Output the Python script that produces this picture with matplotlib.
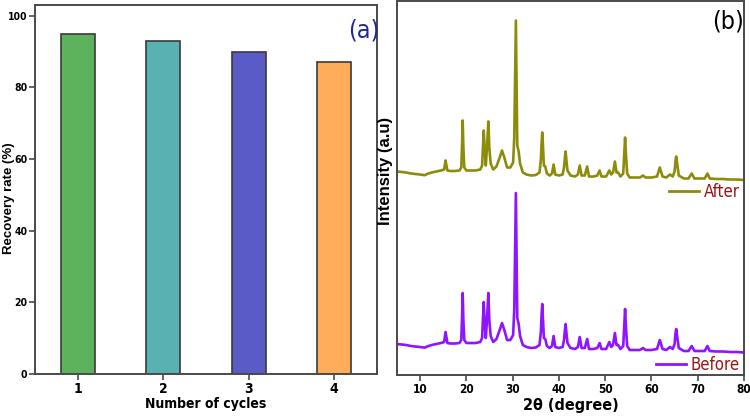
import matplotlib
matplotlib.use("Agg")
import matplotlib.pyplot as plt
from matplotlib.lines import Line2D

# ================ DATA ================
cycles = [1, 2, 3, 4]
recovery = [95, 93, 90, 87]
bar_colors = ["#5cb35c", "#5ab1b1", "#5b5bc8", "#ffad5b"]

# XRD patterns (2theta, intensity a.u.)
two_theta = [5.0, 6.0, 7.0, 8.0, 9.0, 10.0, 11.0, 11.5, 12.5, 13.5, 14.5, 15.2, 15.4, 15.5, 15.65, 15.9,
             16.5, 17.5, 18.5, 18.9, 19.05, 19.2, 19.35, 19.55, 20.0, 21.0, 22.0, 23.0,
             23.4, 23.6, 23.75, 23.95, 24.2, 24.45, 24.75, 24.95, 25.25, 25.8, 26.5, 27.2, 27.7, 28.2, 28.8, 29.5,
             30.1, 30.35, 30.55, 30.7, 30.85, 31.0, 31.3, 31.6, 32.2, 33.0, 34.0, 35.0,
             35.8, 36.1, 36.25, 36.4, 36.55, 36.75, 37.05, 37.4, 38.0, 38.5, 38.85, 39.2, 40.0, 40.8,
             41.1, 41.3, 41.45, 41.6, 41.85, 42.5, 43.5, 44.1, 44.5, 44.9, 45.6, 46.1, 46.5, 47.5,
             48.3, 48.8, 49.2, 50.2, 50.9, 51.3, 51.7, 52.1, 52.45, 52.8, 53.3,
             53.9, 54.1, 54.3, 54.5, 54.75, 55.3, 56.5, 57.5, 58.2, 58.7, 60.0, 61.2, 61.8, 62.4, 63.2,
             64.0, 64.6, 65.0, 65.2, 65.35, 65.55, 65.9, 67.0, 68.0, 68.7, 69.3, 70.5, 71.5, 72.1, 72.6,
             74.0, 75.5, 77.0, 78.5, 80.0]

before_int = [16, 15.5, 15, 14, 13.5, 13, 12.3, 13.5, 15, 16, 17, 18, 25, 28, 24, 17,
              16.5, 16.5, 17, 20, 40, 67, 40, 20, 17, 17, 17, 18,
              22, 42, 58, 38, 22, 40, 67, 40, 24, 18, 21, 30, 37, 30, 20, 20,
              25, 50, 120, 167, 100, 42, 36, 24, 15, 13, 12, 12.5,
              15, 28, 45, 56, 42, 22, 21, 14, 12, 14, 24, 13, 12, 13,
              20, 30, 36, 28, 17, 12, 11, 13, 23, 12, 12, 21, 11, 11,
              12, 17, 11, 11, 18, 13, 15, 27, 15, 15, 11,
              14, 32, 51, 32, 14, 10, 10, 10, 12, 10, 10, 11, 20, 11, 10,
              13, 11, 16, 27, 31, 24, 12, 9, 9, 14, 9, 9, 9, 14, 9,
              8.5, 8.5, 8, 8, 7.5]

after_int = [16, 15.5, 15, 14, 13.5, 13, 12.3, 13.5, 15, 16, 17, 18, 24, 27, 23, 17,
             16.5, 16.5, 17, 20, 40, 67, 40, 20, 17, 17, 17, 18,
             22, 42, 57, 38, 22, 40, 66, 40, 24, 18, 21, 30, 37, 30, 20, 20,
             25, 50, 120, 167, 100, 42, 36, 24, 15, 13, 12, 12.5,
             15, 28, 44, 55, 42, 22, 21, 14, 12, 14, 23, 13, 12, 13,
             20, 30, 36, 28, 17, 12, 11, 13, 22, 12, 12, 21, 11, 11,
             12, 17, 11, 11, 17, 13, 15, 26, 15, 15, 11,
             14, 32, 50, 32, 14, 10, 10, 10, 12, 10, 10, 11, 20, 11, 10,
             13, 11, 16, 27, 31, 24, 12, 9, 9, 14, 9, 9, 9, 14, 9,
             8.5, 8.5, 8, 8, 7.5]

xrd_ticks = [10, 20, 30, 40, 50, 60, 70, 80]

# ================ STYLE ================
narrow = dict(family="DejaVu Sans", stretch="condensed")
wide = ["Liberation Sans", "DejaVu Sans"]
frame_col = "#4a4a4a"
stack_offset = 172.5

fig = plt.figure(figsize=(7.5, 4.17), dpi=100)

# ================ (a) recovery bars ================
ax1 = fig.add_axes([0.0467, 0.1031, 0.456, 0.8849])
ax1.bar(cycles, recovery, width=0.4, color=bar_colors, edgecolor="#3a3a3a", linewidth=1.2)
ax1.set_xlim(0.5, 4.5)
ax1.set_ylim(0, 103)
ax1.set_xticks(cycles)
ax1.set_yticks([0, 20, 40, 60, 80, 100])
ax1.tick_params(direction="out", length=4, width=1.2, color=frame_col, pad=1.5)
for lab in ax1.get_xticklabels():
    lab.set(fontweight="bold", fontsize=10, **narrow)
for lab in ax1.get_yticklabels():
    lab.set(fontweight="bold", fontsize=7.5, **narrow)
ax1.set_xlabel("Number of cycles", fontweight="bold", fontsize=10, labelpad=1, **narrow)
ax1.set_ylabel("Recovery rate (%)", family=wide, fontweight="bold", fontsize=9.5)
ax1.yaxis.set_label_coords(-0.06, 0.476)
ax1.text(0.96, 0.93, "(a)", transform=ax1.transAxes, ha="center", va="center",
         fontsize=18, color="#1f2a8f", **narrow)
for s in ax1.spines.values():
    s.set_color(frame_col)
    s.set_linewidth(1.4)

# ================ (b) XRD ================
ax2 = fig.add_axes([0.5293, 0.1007, 0.4627, 0.8969])
after_col = "#8c8c0a"
before_col = "#8f14ff"
ax2.plot(two_theta, [v + stack_offset for v in after_int], color=after_col, lw=1.9)
ax2.plot(two_theta, before_int, color=before_col, lw=1.9)
ax2.set_xlim(5, 80)
ax2.set_ylim(-15, 359)
ax2.set_xticks(xrd_ticks)
ax2.set_yticks([])
ax2.tick_params(direction="out", length=4, width=1.2, color=frame_col, pad=2)
for lab in ax2.get_xticklabels():
    lab.set(fontweight="bold", fontsize=8.5, **narrow)
ax2.set_xlabel("2\u03b8 (degree)", fontweight="bold", fontsize=11.5, labelpad=1, **narrow)
ax2.set_ylabel("Intensity (a.u)", family=wide, fontweight="bold", fontsize=12)
ax2.yaxis.set_label_coords(-0.012, 0.545)
ax2.text(0.955, 0.945, "(b)", transform=ax2.transAxes, ha="center", va="center",
         fontsize=18, color="black", **narrow)
for s in ax2.spines.values():
    s.set_color(frame_col)
    s.set_linewidth(1.4)

leg_prop = {"family": "DejaVu Sans", "stretch": "condensed", "size": 12}
leg_a = ax2.legend([Line2D([], [], color=after_col, lw=2)], ["After"], loc="center right",
                   bbox_to_anchor=(0.988, 0.49), frameon=False, handlelength=1.8,
                   handletextpad=0.3, borderaxespad=0, borderpad=0, labelcolor="#9a1414",
                   prop=leg_prop)
ax2.add_artist(leg_a)
ax2.legend([Line2D([], [], color=before_col, lw=2)], ["Before"], loc="center right",
           bbox_to_anchor=(0.988, 0.027), frameon=False, handlelength=1.8,
           handletextpad=0.3, borderaxespad=0, borderpad=0, labelcolor="#9a1414",
           prop=leg_prop)

fig.savefig("out.png", dpi=100)
